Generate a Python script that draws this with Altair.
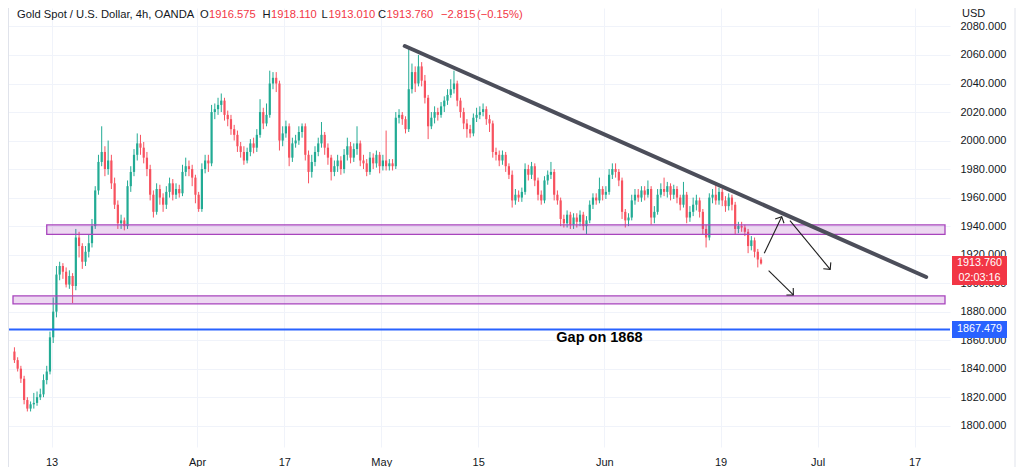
import math
import altair as alt
import pandas as pd

# ---------------- data ----------------
# 8-hour candles (3 per trading day), trading-day index 0 = Mar 13
first_open = 1852
closes = [
    1846, 1840, 1833, 1818, 1812, 1815, 1816, 1820, 1822, 1832, 1838, 1862,
    1880, 1906, 1912, 1908, 1899, 1905, 1898, 1932, 1926, 1915, 1922, 1928,
    1940, 1965, 1985, 1992, 1980, 1986, 1970, 1955, 1942, 1944, 1940, 1968,
    1978, 1990, 1998, 1995, 1988, 1980, 1962, 1950, 1966, 1960, 1955, 1964,
    1970, 1962, 1966, 1963, 1978, 1982, 1980, 1974, 1962, 1952, 1980, 1986,
    1984, 2020, 2022, 2025, 2028, 2018, 2015, 2008, 2004, 1996, 1992, 1986,
    1992, 1998, 1995, 2004, 2020, 2012, 2018, 2040, 2044, 2040, 2000, 2005,
    2010, 1988, 1998, 2000, 2006, 2010, 1990, 1978, 1985, 1992, 1998, 2004,
    1995, 1988, 1978, 1982, 1986, 1980, 1990, 1996, 1988, 1994, 1998, 1986,
    1984, 1978, 1988, 1984, 1990, 1982, 1986, 1982, 1984, 1982, 2016, 2018,
    2015, 2008, 2036, 2048, 2040, 2052, 2042, 2030, 2010, 2016, 2020, 2018,
    2024, 2028, 2032, 2036, 2040, 2028, 2020, 2012, 2008, 2005, 2016, 2018,
    2020, 2022, 2015, 2012, 1992, 1990, 1986, 1990, 1982, 1976, 1958, 1962,
    1960, 1964, 1980, 1976, 1982, 1972, 1962, 1958, 1972, 1976, 1978, 1962,
    1958, 1945, 1942, 1948, 1941, 1946, 1943, 1948, 1940, 1944, 1955, 1960,
    1958, 1966, 1962, 1964, 1976, 1980, 1978, 1972, 1950, 1944, 1946, 1958,
    1962, 1960, 1965, 1962, 1966, 1946, 1950, 1962, 1966, 1964, 1968, 1962,
    1966, 1960, 1955, 1962, 1946, 1950, 1955, 1958, 1950, 1938, 1932, 1960,
    1962, 1958, 1964, 1958, 1954, 1960, 1955, 1938, 1940, 1939, 1936, 1926,
    1930, 1922, 1916.575, 1913.76,
]
highs = [
    1855, 1848, 1842, 1835, 1820, 1817, 1823, 1824, 1826, 1836, 1842, 1866,
    1890, 1912, 1915, 1914, 1911, 1909, 1907, 1938, 1936, 1928, 1926, 1934,
    1945, 1968, 1990, 2010, 1996, 2000, 1990, 1974, 1958, 1948, 1946, 1972,
    1982, 1994, 2005, 2004, 1999, 1992, 1983, 1965, 1970, 1969, 1963, 1968,
    1974, 1973, 1970, 1969, 1983, 1988, 1986, 1983, 1976, 1964, 1984, 1990,
    1990, 2025, 2026, 2030, 2033, 2030, 2021, 2018, 2011, 2007, 1999, 1996,
    1995, 2001, 2002, 2008, 2029, 2023, 2026, 2049, 2048, 2048, 2042, 2010,
    2014, 2012, 2002, 2004, 2010, 2012, 2012, 1993, 1990, 1996, 2002, 2013,
    2006, 1998, 1990, 1986, 1990, 1989, 1994, 2002, 1999, 1998, 2010, 2000,
    1990, 1987, 1992, 1991, 1993, 1992, 1990, 2007, 1987, 1987, 2020, 2022,
    2020, 2017, 2066, 2054, 2052, 2060, 2055, 2046, 2032, 2020, 2024, 2023,
    2027, 2031, 2036, 2043, 2049, 2042, 2030, 2023, 2015, 2011, 2019, 2023,
    2024, 2026, 2024, 2018, 2014, 1995, 1993, 1993, 1992, 1984, 1979, 1966,
    1965, 1967, 1984, 1983, 1985, 1984, 1974, 1965, 1975, 1979, 1985, 1980,
    1965, 1960, 1948, 1951, 1950, 1949, 1949, 1951, 1950, 1947, 1958, 1963,
    1963, 1974, 1968, 1968, 1980, 1984, 1984, 1980, 1974, 1952, 1949, 1962,
    1966, 1966, 1968, 1968, 1972, 1968, 1954, 1966, 1970, 1974, 1971, 1970,
    1969, 1968, 1962, 1971, 1964, 1954, 1960, 1962, 1960, 1952, 1941, 1963,
    1966, 1969, 1967, 1966, 1961, 1963, 1962, 1957, 1943, 1943, 1941, 1938,
    1933, 1932, 1924, 1918.11,
]
lows = [
    1844, 1838, 1830, 1815, 1810, 1810, 1812, 1814, 1818, 1820, 1829, 1836,
    1858, 1876, 1902, 1903, 1897, 1896, 1886, 1895, 1918, 1910, 1912, 1918,
    1925, 1938, 1962, 1982, 1975, 1976, 1966, 1952, 1938, 1938, 1937, 1938,
    1964, 1975, 1986, 1990, 1984, 1975, 1958, 1946, 1948, 1955, 1950, 1952,
    1960, 1958, 1959, 1960, 1961, 1975, 1975, 1968, 1956, 1950, 1950, 1977,
    1978, 1982, 2015, 2018, 2020, 2014, 2010, 2004, 2000, 1992, 1988, 1983,
    1984, 1989, 1991, 1992, 2002, 2008, 2010, 2016, 2036, 2034, 1993, 1996,
    2002, 1982, 1985, 1995, 1997, 2002, 1986, 1970, 1974, 1982, 1989, 1995,
    1990, 1983, 1972, 1975, 1978, 1976, 1977, 1986, 1984, 1985, 1990, 1982,
    1980, 1975, 1976, 1980, 1981, 1977, 1979, 1979, 1979, 1979, 1980, 2012,
    2011, 2005, 2006, 2033, 2034, 2038, 2038, 2026, 2001, 2008, 2012, 2014,
    2016, 2020, 2025, 2030, 2033, 2024, 2016, 2008, 2002, 2002, 2003, 2013,
    2015, 2017, 2011, 2006, 1988, 1986, 1982, 1983, 1978, 1973, 1953, 1955,
    1957, 1957, 1962, 1972, 1973, 1968, 1958, 1955, 1956, 1969, 1973, 1958,
    1955, 1940, 1939, 1939, 1938, 1938, 1939, 1940, 1937, 1934, 1942, 1952,
    1955, 1956, 1958, 1959, 1962, 1973, 1974, 1968, 1945, 1939, 1940, 1944,
    1955, 1957, 1957, 1958, 1960, 1941, 1942, 1948, 1960, 1961, 1960, 1958,
    1959, 1956, 1951, 1953, 1942, 1943, 1947, 1951, 1946, 1934, 1925, 1930,
    1956, 1955, 1955, 1954, 1950, 1951, 1951, 1934, 1935, 1936, 1933, 1921,
    1923, 1918, 1911, 1913.01,
]
start_day = -4          # first candle's trading day
bars_per_day = 3

tick_days = [0, 15, 24, 34, 44, 57, 69, 79, 89]
tick_labels = ["13", "Apr", "17", "May", "15", "Jun", "19", "Jul", "17"]
price_ticks = list(range(1800, 2081, 20))

zone_from = [-0.5, -3.98]
zone_to = [92.14, 92.14]
zone_low = [1934.2, 1885.4]
zone_high = [1940.8, 1891.0]

gap_level = 1867.479
last_price = 1913.76

trend_t = [36.43, 90.2]
trend_p = [2066.3, 1904.3]

arrow_t1 = [73.5, 76.15, 73.95]
arrow_p1 = [1920.9, 1943.8, 1908.7]
arrow_t2 = [75.3, 80.3, 76.5]
arrow_p2 = [1946.6, 1909.7, 1891.7]

header_text = ["Gold Spot / U.S. Dollar, 4h, OANDA", "O", "1916.575", "H", "1918.110",
               "L", "1913.010", "C", "1913.760", "\u22122.815", "(\u22120.15%)"]
header_x = [9, 192, 201, 254.5, 263, 313.5, 320.5, 370, 378.5, 433, 469]
header_red = [False, False, True, False, True, False, True, False, True, True, True]

# ---------------- layout ----------------
W, H = 942, 439
X_DOM = [-3.98, 92.14]
Y_DOM = [1785.07, 2092.96]
PX_DAY = W / (X_DOM[1] - X_DOM[0])
PX_USD = H / (Y_DOM[1] - Y_DOM[0])

UP, DOWN = "#22ab94", "#f7525f"
TXT = "#131722"
GRID = "#f0f3fa"
FONT = "Liberation Sans"

label_expr = "''"
for d, l in reversed(list(zip(tick_days, tick_labels))):
    label_expr = f"datum.value == {d} ? '{l}' : ({label_expr})"

xscale = alt.Scale(domain=X_DOM, nice=False, zero=False)
yscale = alt.Scale(domain=Y_DOM, nice=False, zero=False)
xaxis = alt.Axis(values=tick_days, labelExpr=label_expr, grid=True, gridColor=GRID,
                 domain=False, ticks=False, labelPadding=9, labelFontSize=11,
                 labelColor=TXT, labelFont=FONT, title=None, labelFlush=False)
yaxis = alt.Axis(orient="right", values=price_ticks, format=".3f", grid=True,
                 gridColor=GRID, domain=False, ticks=False, labelPadding=10,
                 labelFontSize=11, labelColor=TXT, labelFont=FONT, title=None)


def X(f):
    return alt.X(f, type="quantitative", scale=xscale, axis=xaxis)


def Y(f):
    return alt.Y(f, type="quantitative", scale=yscale, axis=yaxis)


opens = [first_open] + closes[:-1]
candles = pd.DataFrame({
    "t": [start_day + (i + 0.5) / bars_per_day for i in range(len(closes))],
    "open": opens,
    "close": closes,
    "high": [max(h, o, c) for h, o, c in zip(highs, opens, closes)],
    "low": [min(l, o, c) for l, o, c in zip(lows, opens, closes)],
})
candles["dir"] = ["up" if c >= o else "down" for o, c in zip(opens, closes)]
color = alt.Color("dir:N", scale=alt.Scale(domain=["up", "down"], range=[UP, DOWN]), legend=None)

wicks = alt.Chart(candles).mark_rule(strokeWidth=1).encode(
    x=X("t"), y=Y("low"), y2="high", color=color)
bodies = alt.Chart(candles).mark_bar(size=2.2).encode(
    x=X("t"), y=Y("open"), y2="close", color=color)

zones = pd.DataFrame({"a": zone_from, "b": zone_to, "lo": zone_low, "hi": zone_high})
zone_layer = alt.Chart(zones).mark_rect(
    fill="#9c27b0", fillOpacity=0.18, stroke="#a844bd", strokeWidth=1.3).encode(
    x=X("a"), x2="b", y=Y("lo"), y2="hi")

gap_df = pd.DataFrame({"p": [gap_level]})
gap_line = alt.Chart(gap_df).mark_rule(color="#2962ff", strokeWidth=2).encode(y=Y("p"))

trend_df = pd.DataFrame({"t1": [trend_t[0]], "t2": [trend_t[1]], "p1": [trend_p[0]], "p2": [trend_p[1]]})
trend = alt.Chart(trend_df).mark_rule(color="#4c4e5a", strokeWidth=4, strokeCap="round").encode(
    x=X("t1"), x2="t2", y=Y("p1"), y2="p2")

arr = pd.DataFrame({"t1": arrow_t1, "p1": arrow_p1, "t2": arrow_t2, "p2": arrow_p2})
arr["ang"] = [
    math.degrees(math.atan2((b - a) * PX_DAY, (q - p) * PX_USD)) % 360
    for a, b, p, q in zip(arrow_t1, arrow_t2, arrow_p1, arrow_p2)
]
arrow_lines = alt.Chart(arr).mark_rule(color="#1e1e1e", strokeWidth=1.1).encode(
    x=X("t1"), x2="t2", y=Y("p1"), y2="p2")
arrow_heads = alt.Chart(arr).mark_point(
    shape="M-0.8,0.8L0,0L0.8,0.8", filled=False, stroke="#1e1e1e", strokeWidth=1.1,
    size=150, opacity=1).encode(
    x=X("t2"), y=Y("p2"), angle=alt.Angle("ang:Q", scale=None))

gap_text_df = pd.DataFrame({"t": [56.5], "p": [1861.5], "s": ["Gap on 1868"]})
gap_text = alt.Chart(gap_text_df).mark_text(
    fontSize=14.5, fontWeight="bold", font=FONT, color="#000000").encode(
    x=X("t"), y=Y("p"), text="s:N")

# price labels on the price scale
boxes = pd.DataFrame({
    "top": [last_price + 7.5 / PX_USD, gap_level + 8.5 / PX_USD],
    "bot": [last_price - 21.5 / PX_USD, gap_level - 8.5 / PX_USD],
    "col": ["#f23645", "#2962ff"],
})
box_layer = alt.Chart(boxes).mark_rect().encode(
    x=alt.value(944), x2=alt.value(999), y=Y("top"), y2="bot",
    color=alt.Color("col:N", scale=None))
box_txt = pd.DataFrame({
    "p": [last_price + 0.4, last_price - 14.5 / PX_USD, gap_level],
    "s": ["1913.760", "02:03:16", "1867.479"],
})
box_text = alt.Chart(box_txt).mark_text(
    color="white", fontSize=10.8, font=FONT, fontWeight=500).encode(
    x=alt.value(971.5), y=Y("p"), text="s:N")

layers = [wicks, bodies, zone_layer, gap_line, trend, arrow_lines, arrow_heads,
          gap_text, box_layer, box_text]

# header
for s, xp, red in zip(header_text, header_x, header_red):
    layers.append(
        alt.Chart(pd.DataFrame({"s": [s]})).mark_text(
            align="left", baseline="middle", fontSize=11.2, font=FONT,
            color="#f23645" if red else TXT).encode(
            x=alt.value(xp), y=alt.value(6.5), text="s:N"))

layers.append(alt.Chart(pd.DataFrame({"s": ["USD"]})).mark_text(
    align="left", baseline="middle", fontSize=11, font=FONT, color=TXT).encode(
    x=alt.value(954), y=alt.value(6), text="s:N"))

# frame lines
frame = pd.DataFrame({"k": [0]})
layers.append(alt.Chart(frame).mark_rule(color="#e0e3eb", strokeWidth=1).encode(
    x=alt.value(0.5), y=alt.value(-8), y2=alt.value(459)))
layers.append(alt.Chart(frame).mark_rule(color="#e0e3eb", strokeWidth=1).encode(
    x=alt.value(1007), y=alt.value(-8), y2=alt.value(459)))

chart = alt.layer(*layers).properties(
    width=W, height=H,
    autosize=alt.AutoSizeParams(type="none"),
    padding={"left": 0, "top": 0, "right": 66, "bottom": 20},
    background="white",
).configure_view(stroke=None)

chart.save("out.html", embed_options={"renderer": "svg", "actions": False})
